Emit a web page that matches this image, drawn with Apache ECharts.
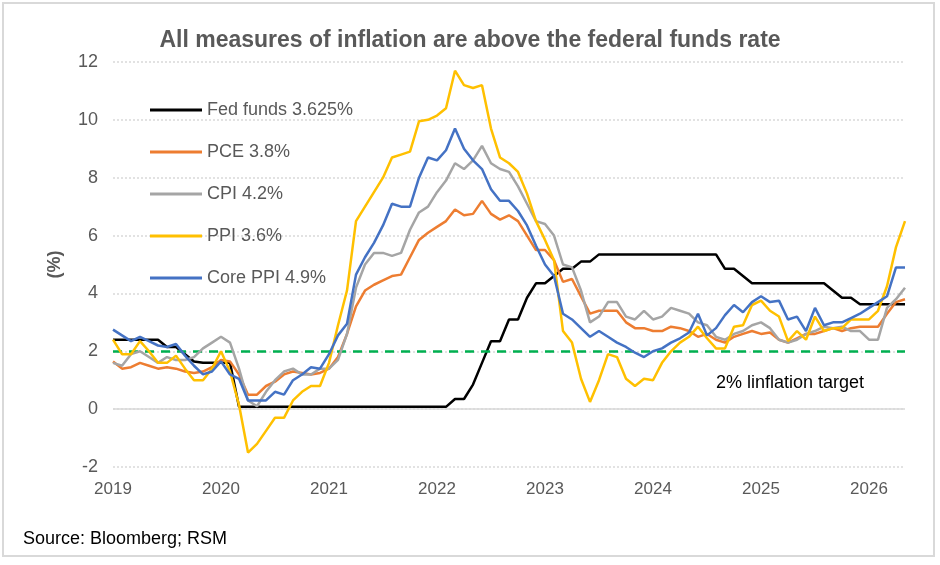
<!DOCTYPE html>
<html>
<head>
<meta charset="utf-8">
<script src="https://cdn.jsdelivr.net/npm/echarts@6/dist/echarts.min.js"></script>
<style>
  html, body { margin: 0; padding: 0; background: #fff; }
  #chart { width: 940px; height: 565px; }
</style>
</head>
<body>
<div id="chart"></div>
<script>
// monthly, Jan 2019 .. May 2026
const startYear = 2019;
const monthCount = 89;
const seriesNames = ['Fed funds 3.625%', 'PCE 3.8%', 'CPI 4.2%', 'PPI 3.6%', 'Core PPI 4.9%'];
const colors = ['#000000', '#ED7D31', '#A5A5A5', '#FFC000', '#4472C4'];

const fedFunds = [
  2.4, 2.4, 2.4, 2.4, 2.4, 2.4, 2.15, 2.15, 1.9, 1.65, 1.6, 1.6,
  1.6, 1.6, 0.08, 0.08, 0.08, 0.08, 0.08, 0.08, 0.08, 0.08, 0.08, 0.08,
  0.08, 0.08, 0.08, 0.08, 0.08, 0.08, 0.08, 0.08, 0.08, 0.08, 0.08, 0.08,
  0.08, 0.08, 0.35, 0.35, 0.85, 1.6, 2.35, 2.35, 3.1, 3.1, 3.85, 4.35,
  4.35, 4.6, 4.85, 4.85, 5.1, 5.1, 5.35, 5.35, 5.35, 5.35, 5.35, 5.35,
  5.35, 5.35, 5.35, 5.35, 5.35, 5.35, 5.35, 5.35, 4.85, 4.85, 4.6, 4.35,
  4.35, 4.35, 4.35, 4.35, 4.35, 4.35, 4.35, 4.35, 4.1, 3.85, 3.85, 3.625,
  3.625, 3.625, 3.625, 3.625, 3.625
];
const pce = [
  1.65, 1.4, 1.45, 1.6, 1.5, 1.4, 1.45, 1.4, 1.3, 1.25, 1.3, 1.45,
  1.7, 1.65, 1.2, 0.5, 0.5, 0.8, 0.95, 1.2, 1.3, 1.25, 1.2, 1.25,
  1.4, 1.8, 2.6, 3.55, 4.1, 4.3, 4.45, 4.6, 4.65, 5.25, 5.85, 6.1,
  6.3, 6.5, 6.9, 6.7, 6.75, 7.2, 6.75, 6.55, 6.7, 6.5, 6.0, 5.5,
  5.5, 5.15, 4.4, 4.5, 3.9, 3.3, 3.4, 3.4, 3.4, 3.0, 2.8, 2.8,
  2.7, 2.7, 2.85, 2.8, 2.7, 2.5, 2.6, 2.4, 2.3, 2.5, 2.6, 2.7,
  2.6, 2.65, 2.4, 2.3, 2.45, 2.6, 2.6, 2.7, 2.8, 2.7, 2.8, 2.85,
  2.85, 2.85, 3.3, 3.7, 3.8
];
const cpi = [
  1.6, 1.5, 1.9, 2.0, 1.8, 1.6, 1.8, 1.7, 1.7, 1.8, 2.1, 2.3,
  2.5, 2.3, 1.4, 0.3, 0.1, 0.6, 1.0, 1.3, 1.4, 1.2, 1.2, 1.4,
  1.4, 1.7, 2.6, 4.2, 5.0, 5.4, 5.4, 5.3, 5.4, 6.2, 6.8, 7.0,
  7.5, 7.9, 8.5, 8.3, 8.6, 9.1, 8.5, 8.3, 8.2, 7.7, 7.1, 6.5,
  6.4, 6.0, 5.0, 4.9, 4.1, 3.0, 3.2, 3.7, 3.7, 3.2, 3.1, 3.4,
  3.1, 3.2, 3.5, 3.4, 3.3, 3.0, 2.9, 2.5, 2.4, 2.6, 2.7, 2.9,
  3.0, 2.8, 2.4, 2.3, 2.4, 2.6, 2.7, 2.85, 2.8, 2.85, 2.7, 2.7,
  2.4, 2.4, 3.5, 3.8, 4.2
];
const ppi = [
  2.4, 1.9, 1.9, 2.35, 2.0, 1.6, 1.6, 1.85, 1.4, 1.0, 1.0, 1.4,
  2.0, 1.3, 0.15, -1.5, -1.2, -0.75, -0.3, -0.3, 0.3, 0.6, 0.8, 0.8,
  1.6, 2.9, 4.1, 6.5, 7.0, 7.5, 8.0, 8.7, 8.8, 8.9, 9.95, 10.0,
  10.15, 10.4, 11.7, 11.2, 11.1, 11.2, 9.7, 8.7, 8.5, 8.2, 7.45, 6.5,
  5.85, 5.15, 2.7, 2.3, 1.05, 0.25, 1.0, 1.9, 1.8, 1.05, 0.8, 1.05,
  1.0, 1.6, 2.0, 2.3, 2.5, 2.85, 2.45, 2.1, 2.1, 2.85, 2.9, 3.6,
  3.75, 3.4, 3.2, 2.35, 2.7, 2.4, 3.2, 2.7, 2.8, 2.8, 3.1, 3.1,
  3.1, 3.4, 4.25, 5.6, 6.5
];
const corePpi = [
  2.75, 2.55, 2.35, 2.5, 2.35, 2.2, 2.15, 2.25, 1.85, 1.5, 1.2, 1.3,
  1.65, 1.2, 1.05, 0.3, 0.3, 0.3, 0.6, 0.5, 1.0, 1.2, 1.45, 1.4,
  1.9, 2.55, 2.95, 4.65, 5.25, 5.75, 6.35, 7.1, 7.0, 7.0, 8.0, 8.7,
  8.6, 8.95, 9.7, 9.0, 8.6, 8.3, 7.6, 7.2, 7.2, 6.85, 6.35, 5.65,
  5.0, 4.6, 3.3, 3.1, 2.8, 2.5, 2.7, 2.5, 2.3, 2.15, 1.95, 1.8,
  2.0, 2.1, 2.3, 2.45, 2.65, 3.3, 2.55, 2.8, 3.25, 3.6, 3.35, 3.7,
  3.9, 3.7, 3.75, 3.1, 3.2, 2.7, 3.5, 2.9, 3.0, 3.0, 3.15, 3.3,
  3.5, 3.7, 3.9, 4.9, 4.9
];
const targetLevel = 2;
const targetLabel = '2% linflation target';

const months = [];
for (let i = 0; i < monthCount; i++) {
  const y = startYear + Math.floor(i / 12);
  const m = (i % 12) + 1;
  months.push(y + '-' + (m < 10 ? '0' + m : m));
}

const font = 'Liberation Sans, Arial, sans-serif';
const chart = echarts.init(document.getElementById('chart'), null, { renderer: 'canvas' });

const allData = [fedFunds, pce, cpi, ppi, corePpi];
const series = allData.map(function (d, k) {
  const s = {
    name: seriesNames[k],
    type: 'line',
    data: d,
    symbol: 'none',
    smooth: false,
    lineStyle: { width: 2.5, color: colors[k] },
    itemStyle: { color: colors[k] },
    z: 3 + k
  };
  if (k === 0) {
    // zero line and the 2% target
    s.markLine = {
      silent: true,
      symbol: 'none',
      label: { show: false },
      data: [
        { yAxis: 0, lineStyle: { color: '#D9D9D9', width: 1.5, type: 'solid' } },
        { yAxis: targetLevel, lineStyle: { color: '#00B050', width: 2.5, type: [9, 7] } }
      ]
    };
  }
  return s;
});

var option = {
  backgroundColor: '#ffffff',
  animation: false,
  textStyle: { fontFamily: font },
  title: {
    text: 'All measures of inflation are above the federal funds rate',
    left: 'center',
    top: 24,
    textStyle: { fontSize: 23, fontWeight: 'bold', color: '#595959', fontFamily: font }
  },
  legend: {
    orient: 'vertical',
    left: 150,
    top: 101,
    padding: 0,
    icon: 'rect',
    itemWidth: 52,
    itemHeight: 3,
    itemGap: 24,
    data: seriesNames,
    textStyle: { fontSize: 18, color: '#595959', fontFamily: font }
  },
  grid: { left: 113, right: 35, top: 62, bottom: 98 },
  xAxis: {
    type: 'category',
    data: months,
    boundaryGap: false,
    axisLine: { show: false },
    axisTick: { show: false },
    splitLine: { show: false },
    axisLabel: {
      interval: function (i) { return i % 12 === 0; },
      formatter: function (v) { return v.slice(0, 4); },
      fontSize: 17,
      color: '#595959',
      margin: 14,
      fontFamily: font
    }
  },
  yAxis: {
    type: 'value',
    min: -2,
    max: 12,
    interval: 2,
    name: '(%)',
    nameLocation: 'middle',
    nameGap: 49,
    nameTextStyle: { fontSize: 18, fontWeight: 'bold', color: '#595959', fontFamily: font },
    axisLine: { show: false },
    axisTick: { show: false },
    axisLabel: { fontSize: 18, color: '#595959', margin: 15, fontFamily: font },
    splitLine: { lineStyle: { color: '#D9D9D9', width: 1.5, type: [2, 2] } }
  },
  series: series
};
chart.setOption(option);

const labelPos = chart.convertToPixel({ gridIndex: 0 }, [67, 0.9]);
chart.setOption({
  graphic: [
    {
      type: 'rect',
      shape: { x: 3, y: 3, width: 931, height: 553 },
      style: { fill: 'none', stroke: '#D9D9D9', lineWidth: 2 },
      silent: true
    },
    {
      type: 'text',
      left: 23,
      top: 530,
      style: { text: 'Source: Bloomberg; RSM', font: '18px ' + font, fill: '#000000' }
    },
    {
      type: 'text',
      x: labelPos[0],
      y: labelPos[1],
      style: {
        text: targetLabel,
        font: '18px ' + font,
        fill: '#000000',
        textAlign: 'left',
        textVerticalAlign: 'middle'
      }
    }
  ]
});
</script>
</body>
</html>
